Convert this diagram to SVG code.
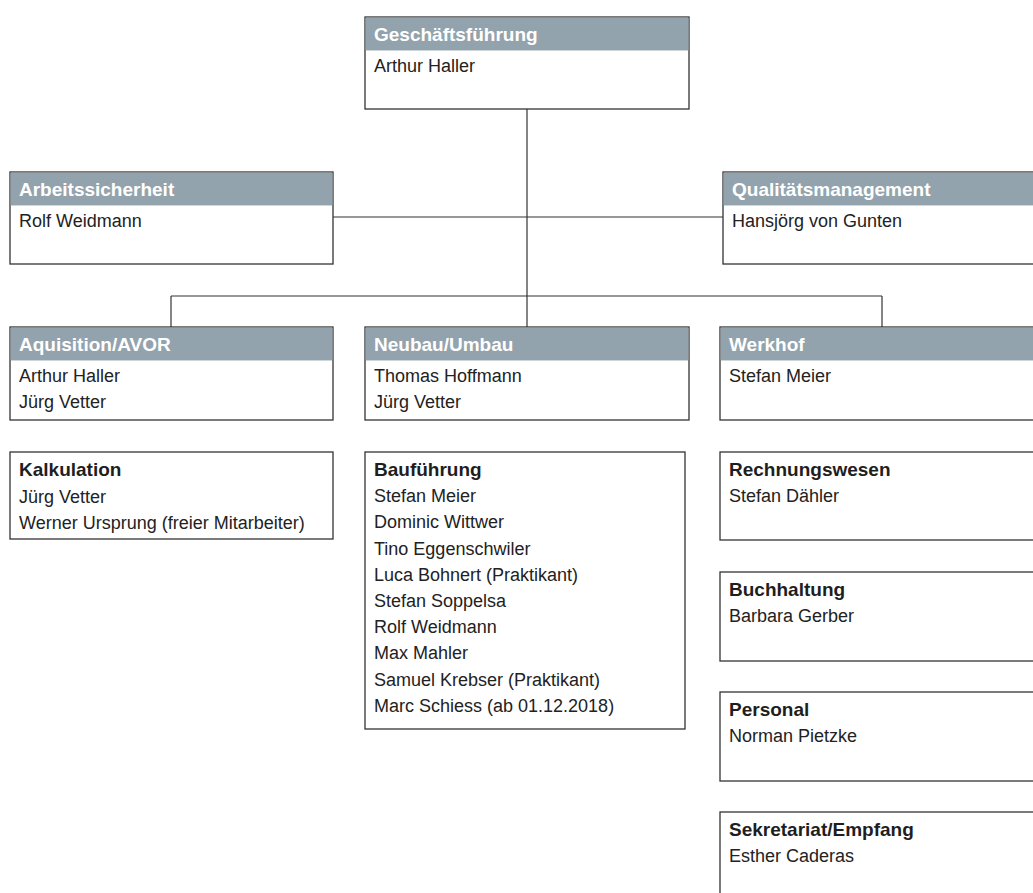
<svg xmlns="http://www.w3.org/2000/svg" width="1033" height="893" viewBox="0 0 1033 893">
<style>
.box{fill:#fff;stroke:#333;stroke-width:1.3}
.hdr{fill:#93a3ad}
.sep{stroke:#cfd6da;stroke-width:1}
.ht{font-family:"Liberation Sans",Arial,sans-serif;font-weight:bold;font-size:19px;fill:#fff}
.tt{font-family:"Liberation Sans",Arial,sans-serif;font-weight:bold;font-size:19px;fill:#1e1e1e}
.nt{font-family:"Liberation Sans",Arial,sans-serif;font-size:18px;fill:#222}
.con{stroke:#333;stroke-width:1.2;fill:none}
</style>
<rect width="1033" height="893" fill="#fff"/>
<g id="connectors">
<line class="con" x1="527" y1="109" x2="527" y2="327"/>
<line class="con" x1="333" y1="217" x2="723" y2="217"/>
<line class="con" x1="171" y1="296" x2="882" y2="296"/>
<line class="con" x1="171" y1="296" x2="171" y2="327"/>
<line class="con" x1="882" y1="296" x2="882" y2="327"/>
</g>
<g id="geschaeftsfuehrung">
<rect class="box" x="365" y="17" width="324" height="92"/>
<rect class="hdr" x="365.6" y="17.6" width="322.8" height="32.4"/>
<line class="sep" x1="366" y1="50.5" x2="688" y2="50.5"/>
<text class="ht" x="374" y="41">Geschäftsführung</text>
<text class="nt" x="374" y="72">Arthur Haller</text>
</g>
<g id="arbeitssicherheit">
<rect class="box" x="10" y="172" width="323" height="92"/>
<rect class="hdr" x="10.6" y="172.6" width="321.8" height="32.4"/>
<line class="sep" x1="11" y1="205.5" x2="332" y2="205.5"/>
<text class="ht" x="19" y="196">Arbeitssicherheit</text>
<text class="nt" x="19" y="227">Rolf Weidmann</text>
</g>
<g id="qualitaetsmanagement">
<rect class="box" x="723" y="172" width="330" height="92"/>
<rect class="hdr" x="723.6" y="172.6" width="330" height="32.4"/>
<line class="sep" x1="724" y1="205.5" x2="1040" y2="205.5"/>
<text class="ht" x="732" y="196">Qualitätsmanagement</text>
<text class="nt" x="732" y="227">Hansjörg von Gunten</text>
</g>
<g id="aquisition">
<rect class="box" x="10" y="327" width="323" height="93"/>
<rect class="hdr" x="10.6" y="327.6" width="321.8" height="32.4"/>
<line class="sep" x1="11" y1="360.5" x2="332" y2="360.5"/>
<text class="ht" x="19" y="351">Aquisition/AVOR</text>
<text class="nt" x="19" y="382">Arthur Haller</text>
<text class="nt" x="19" y="407.5">Jürg Vetter</text>
</g>
<g id="neubau">
<rect class="box" x="365" y="327" width="324" height="93"/>
<rect class="hdr" x="365.6" y="327.6" width="322.8" height="32.4"/>
<line class="sep" x1="366" y1="360.5" x2="688" y2="360.5"/>
<text class="ht" x="374" y="351">Neubau/Umbau</text>
<text class="nt" x="374" y="382">Thomas Hoffmann</text>
<text class="nt" x="374" y="407.5">Jürg Vetter</text>
</g>
<g id="werkhof">
<rect class="box" x="720" y="327" width="330" height="93"/>
<rect class="hdr" x="720.6" y="327.6" width="330" height="32.4"/>
<line class="sep" x1="721" y1="360.5" x2="1040" y2="360.5"/>
<text class="ht" x="729" y="351">Werkhof</text>
<text class="nt" x="729" y="382">Stefan Meier</text>
</g>
<g id="kalkulation">
<rect class="box" x="10" y="452" width="323" height="87"/>
<text class="tt" x="19" y="476">Kalkulation</text>
<text class="nt" x="19" y="502.5">Jürg Vetter</text>
<text class="nt" x="19" y="529">Werner Ursprung (freier Mitarbeiter)</text>
</g>
<g id="baufuehrung">
<rect class="box" x="365" y="452" width="320" height="277"/>
<text class="tt" x="374" y="476">Bauführung</text>
<text class="nt" x="374" y="502.2">Stefan Meier</text>
<text class="nt" x="374" y="528.4">Dominic Wittwer</text>
<text class="nt" x="374" y="554.6">Tino Eggenschwiler</text>
<text class="nt" x="374" y="580.8">Luca Bohnert (Praktikant)</text>
<text class="nt" x="374" y="607">Stefan Soppelsa</text>
<text class="nt" x="374" y="633.2">Rolf Weidmann</text>
<text class="nt" x="374" y="659.4">Max Mahler</text>
<text class="nt" x="374" y="685.6">Samuel Krebser (Praktikant)</text>
<text class="nt" x="374" y="711.8">Marc Schiess (ab 01.12.2018)</text>
</g>
<g id="rechnungswesen">
<rect class="box" x="720" y="452" width="330" height="88"/>
<text class="tt" x="729" y="476">Rechnungswesen</text>
<text class="nt" x="729" y="502">Stefan Dähler</text>
</g>
<g id="buchhaltung">
<rect class="box" x="720" y="572" width="330" height="89"/>
<text class="tt" x="729" y="596">Buchhaltung</text>
<text class="nt" x="729" y="622">Barbara Gerber</text>
</g>
<g id="personal">
<rect class="box" x="720" y="692" width="330" height="89"/>
<text class="tt" x="729" y="716">Personal</text>
<text class="nt" x="729" y="742">Norman Pietzke</text>
</g>
<g id="sekretariat">
<rect class="box" x="720" y="812" width="330" height="89"/>
<text class="tt" x="729" y="836">Sekretariat/Empfang</text>
<text class="nt" x="729" y="862">Esther Caderas</text>
</g>
</svg>
